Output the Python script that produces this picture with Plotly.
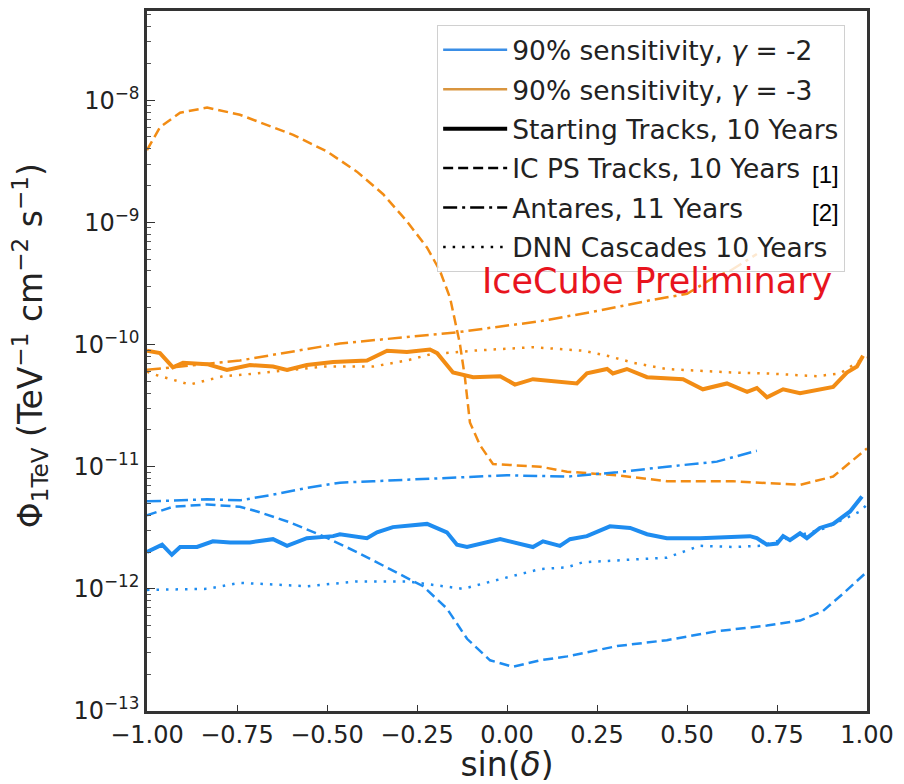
import plotly.graph_objects as go

# ---------------- data ----------------
# gamma = -3 (orange)
x_ps_g3 = [-1.0, -0.964, -0.908, -0.833, -0.742, -0.667, -0.594, -0.5, -0.417, -0.344, -0.278, -0.222,
           -0.186, -0.158, -0.131, -0.117, -0.103, -0.075, -0.039, 0.092, 0.167, 0.306, 0.444, 0.628,
           0.814, 0.906, 1.0]
y_ps_g3 = [3.9e-9, 6.0e-9, 7.9e-9, 8.7e-9, 7.6e-9, 6.3e-9, 5.2e-9, 3.8e-9, 2.6e-9, 1.7e-9, 1.02e-9, 6.2e-10,
           4.0e-10, 2.4e-10, 1.02e-10, 5.4e-11, 2.3e-11, 1.5e-11, 1.05e-11, 1.0e-11, 9.1e-12, 8.5e-12, 7.6e-12,
           7.6e-12, 7.1e-12, 8.3e-12, 1.41e-11]

x_ant_g3 = [-1.0, -0.742, -0.464, -0.278, -0.139, 0.092, 0.258, 0.397, 0.5, 0.572, 0.619, 0.694]
y_ant_g3 = [6.2e-11, 7.4e-11, 1.02e-10, 1.15e-10, 1.26e-10, 1.55e-10, 1.9e-10, 2.3e-10, 2.6e-10, 3.5e-10,
            4.0e-10, 5.5e-10]

x_st_g3 = [-1.0, -0.964, -0.928, -0.9, -0.833, -0.778, -0.714, -0.65, -0.611, -0.556, -0.483, -0.389,
           -0.333, -0.278, -0.214, -0.194, -0.15, -0.094, -0.019, 0.022, 0.072, 0.194, 0.222, 0.278,
           0.294, 0.333, 0.389, 0.489, 0.544, 0.611, 0.667, 0.694, 0.722, 0.767, 0.814, 0.906, 0.944,
           0.972, 0.989]
y_st_g3 = [8.9e-11, 8.5e-11, 6.5e-11, 7.1e-11, 6.9e-11, 6.2e-11, 6.8e-11, 6.6e-11, 6.2e-11, 6.8e-11,
           7.2e-11, 7.4e-11, 8.9e-11, 8.7e-11, 9.1e-11, 8.5e-11, 5.9e-11, 5.4e-11, 5.5e-11, 4.7e-11,
           5.2e-11, 4.8e-11, 5.8e-11, 6.3e-11, 5.8e-11, 6.3e-11, 5.4e-11, 5.2e-11, 4.3e-11, 4.8e-11,
           4.1e-11, 4.4e-11, 3.7e-11, 4.3e-11, 4.0e-11, 4.5e-11, 5.9e-11, 6.6e-11, 8.1e-11]

x_dnn_g3 = [-1.0, -0.972, -0.881, -0.789, -0.694, -0.603, -0.511, -0.372, -0.278, -0.214, -0.094, 0.072,
            0.211, 0.278, 0.35, 0.444, 0.628, 0.722, 0.861, 0.925, 0.981, 1.0]
y_dnn_g3 = [6.0e-11, 5.6e-11, 4.7e-11, 5.5e-11, 5.8e-11, 6.2e-11, 6.6e-11, 6.6e-11, 7.4e-11, 8.3e-11,
            8.9e-11, 9.5e-11, 8.9e-11, 8.1e-11, 7.1e-11, 6.3e-11, 5.9e-11, 5.8e-11, 5.5e-11, 5.8e-11,
            7.4e-11, 7.8e-11]

# gamma = -2 (blue)
x_ps_g2 = [-1.0, -0.928, -0.833, -0.742, -0.694, -0.603, -0.511, -0.417, -0.325, -0.233, -0.167, -0.111,
           -0.047, 0.017, 0.092, 0.167, 0.306, 0.444, 0.583, 0.722, 0.814, 0.878, 0.933, 1.0]
y_ps_g2 = [4.0e-12, 4.7e-12, 4.9e-12, 4.7e-12, 4.3e-12, 3.5e-12, 2.7e-12, 2.0e-12, 1.45e-12, 1.05e-12,
           6.9e-13, 3.9e-13, 2.6e-13, 2.3e-13, 2.6e-13, 2.8e-13, 3.4e-13, 3.8e-13, 4.5e-13, 5.0e-13,
           5.5e-13, 6.6e-13, 9.1e-13, 1.38e-12]

x_ant_g2 = [-1.0, -0.833, -0.742, -0.65, -0.556, -0.464, -0.372, -0.186, 0.0, 0.167, 0.306, 0.444, 0.583,
            0.694]
y_ant_g2 = [5.2e-12, 5.4e-12, 5.3e-12, 5.9e-12, 6.7e-12, 7.4e-12, 7.6e-12, 8.0e-12, 8.5e-12, 8.3e-12,
            9.0e-12, 1.0e-11, 1.1e-11, 1.35e-11]

x_st_g2 = [-1.0, -0.958, -0.931, -0.908, -0.861, -0.817, -0.769, -0.714, -0.65, -0.611, -0.556, -0.483,
           -0.464, -0.389, -0.361, -0.317, -0.222, -0.167, -0.139, -0.111, -0.019, 0.028, 0.072, 0.1,
           0.147, 0.175, 0.222, 0.286, 0.342, 0.389, 0.444, 0.536, 0.675, 0.694, 0.722, 0.75, 0.767,
           0.786, 0.814, 0.833, 0.869, 0.906, 0.953, 0.986]
y_st_g2 = [2.0e-12, 2.3e-12, 1.9e-12, 2.2e-12, 2.2e-12, 2.45e-12, 2.4e-12, 2.4e-12, 2.55e-12, 2.25e-12,
           2.6e-12, 2.7e-12, 2.8e-12, 2.6e-12, 2.9e-12, 3.2e-12, 3.4e-12, 2.9e-12, 2.3e-12, 2.2e-12,
           2.55e-12, 2.35e-12, 2.2e-12, 2.45e-12, 2.25e-12, 2.55e-12, 2.7e-12, 3.25e-12, 3.15e-12,
           2.8e-12, 2.6e-12, 2.6e-12, 2.7e-12, 2.6e-12, 2.3e-12, 2.35e-12, 2.7e-12, 2.5e-12, 2.85e-12,
           2.6e-12, 3.15e-12, 3.4e-12, 4.3e-12, 5.7e-12]

x_dnn_g2 = [-1.0, -0.833, -0.742, -0.556, -0.417, -0.278, -0.122, -0.047, -0.019, 0.092, 0.167, 0.211,
            0.444, 0.536, 0.628, 0.703, 0.878, 0.981, 1.0]
y_dnn_g2 = [9.8e-13, 1.0e-12, 1.12e-12, 1.05e-12, 1.15e-12, 1.15e-12, 1.0e-12, 1.15e-12, 1.2e-12,
            1.45e-12, 1.5e-12, 1.65e-12, 1.8e-12, 2.25e-12, 2.2e-12, 2.25e-12, 3.1e-12, 4.3e-12, 4.9e-12]

x_ticks = [-1.0, -0.75, -0.5, -0.25, 0.0, 0.25, 0.5, 0.75, 1.0]
y_ticks = [1e-13, 1e-12, 1e-11, 1e-10, 1e-9, 1e-8]
y_ticktext = ["10<sup>−13</sup>", "10<sup>−12</sup>", "10<sup>−11</sup>", "10<sup>−10</sup>",
              "10<sup>−9</sup>", "10<sup>−8</sup>"]
y_minor = [m * 10.0 ** e for e in range(-13, -7) for m in range(2, 10)]

legend_labels = ["90% sensitivity, <i>γ</i> = -2", "90% sensitivity, <i>γ</i> = -3",
                 "Starting Tracks, 10 Years", "IC PS Tracks, 10 Years",
                 "Antares, 11 Years", "DNN Cascades 10 Years"]

# ---------------- styles ----------------
BLUE = "#1E8CF0"
ORANGE = "#F28C14"
DASH = "10px,5px"
DASHDOT = "14px,5px,3px,5px"
DOT = "2.5px,7px"

fig = go.Figure()

series = [
    (x_ps_g3, y_ps_g3, ORANGE, DASH, 2.5),
    (x_ant_g3, y_ant_g3, ORANGE, DASHDOT, 2.5),
    (x_dnn_g3, y_dnn_g3, ORANGE, DOT, 2.5),
    (x_st_g3, y_st_g3, ORANGE, "solid", 4),
    (x_ps_g2, y_ps_g2, BLUE, DASH, 2.5),
    (x_ant_g2, y_ant_g2, BLUE, DASHDOT, 2.5),
    (x_dnn_g2, y_dnn_g2, BLUE, DOT, 2.5),
    (x_st_g2, y_st_g2, BLUE, "solid", 4),
]
for xs, ys, col, dash, w in series:
    fig.add_trace(go.Scatter(x=xs, y=ys, mode="lines", showlegend=False,
                             line=dict(color=col, dash=dash, width=w)))

# legend proxies
leg_styles = [
    ("#3A8EE6", "solid", 2.5),
    ("#D9953F", "solid", 2.5),
    ("black", "solid", 4),
    ("black", DASH, 2.5),
    ("black", DASHDOT, 2.5),
    ("black", DOT, 2.5),
]
for i, (lab, (col, dash, w)) in enumerate(zip(legend_labels, leg_styles)):
    fig.add_trace(go.Scatter(x=[None], y=[None], mode="lines", name=lab, legendgroup=f"g{i}",
                             line=dict(color=col, dash=dash, width=w)))

fig.update_layout(
    width=904, height=784,
    margin=dict(l=147, r=37, t=8, b=71),
    plot_bgcolor="white", paper_bgcolor="white",
    font=dict(family="DejaVu Sans", size=24, color="#222"),
    legend=dict(x=0.403, y=0.980, xanchor="left", yanchor="top",
                bgcolor="rgba(255,255,255,0.8)", bordercolor="#d0d0d0", borderwidth=1,
                font=dict(size=26.5, color="#222"), tracegroupgap=2, itemwidth=64,
                traceorder="grouped"),
    xaxis=dict(range=[-1, 1], tickvals=x_ticks, tickformat=".2f", ticks="inside", ticklen=6,
               tickcolor="#333", showgrid=False, zeroline=False, showline=True, linecolor="#333",
               linewidth=2.5, mirror=True, tickfont=dict(size=24, color="#222"),
               title=dict(text="sin(<i>δ</i>)", font=dict(size=33, color="#222"), standoff=4)),
    yaxis=dict(type="log", range=[-13, -7.27], tickvals=y_ticks, ticktext=y_ticktext,
               ticks="inside", ticklen=8, tickcolor="#333", showgrid=False, zeroline=False,
               showline=True, linecolor="#333", linewidth=2.5, mirror=True,
               tickfont=dict(size=24, color="#222"),
               minor=dict(tickvals=y_minor, ticks="inside", ticklen=4, tickcolor="#555", showgrid=False)),
)

# y-axis title placed as rotated text to match the reference's vertical centring
fig.add_annotation(xref="paper", yref="paper", x=-0.1625, y=0.521, textangle=-90,
                   text="Φ<sub>1TeV</sub> (TeV<sup>−1</sup> cm<sup>−2</sup> s<sup>−1</sup>)",
                   showarrow=False, xanchor="center", yanchor="middle",
                   font=dict(family="DejaVu Sans", size=33, color="#222"))
fig.add_annotation(xref="paper", yref="paper", x=0.708, y=0.615, text="IceCube Preliminary",
                   showarrow=False, xanchor="center", yanchor="middle",
                   font=dict(family="DejaVu Sans", size=35, color="#E8141E"))
fig.add_annotation(xref="paper", yref="paper", x=0.942, y=0.767, text="[1]", showarrow=False,
                   xanchor="center", yanchor="middle",
                   font=dict(family="Liberation Sans", size=24, color="black"))
fig.add_annotation(xref="paper", yref="paper", x=0.942, y=0.712, text="[2]", showarrow=False,
                   xanchor="center", yanchor="middle",
                   font=dict(family="Liberation Sans", size=24, color="black"))

fig.write_html("out.html")
